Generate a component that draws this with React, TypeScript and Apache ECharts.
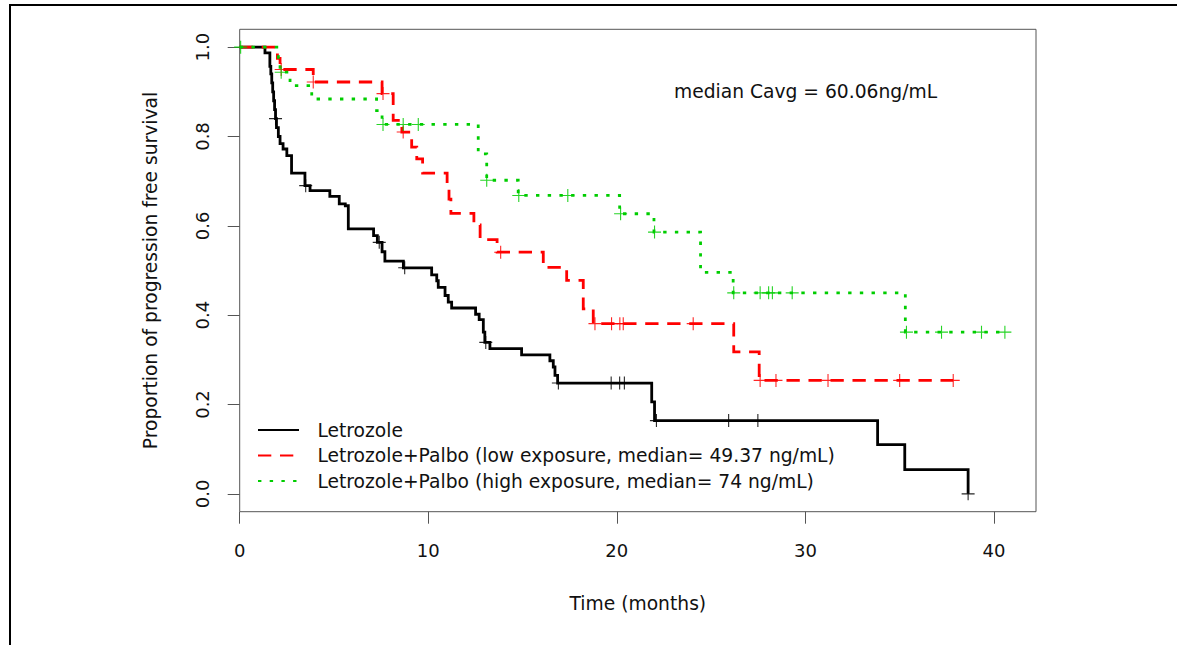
import React, { useEffect, useRef } from "react";
import * as echarts from "echarts";

// ---------- data ----------
const seriesNames = [
  "Letrozole",
  "Letrozole+Palbo (low exposure, median= 49.37 ng/mL)",
  "Letrozole+Palbo (high exposure, median= 74 ng/mL)",
];
const seriesColors = ["#000000", "#FF0000", "#00CD00"];

// Kaplan-Meier steps: [time (months), survival after that time]
const letrozoleSteps = [
  [0, 1.0], [1.34, 0.987], [1.6, 0.957], [1.65, 0.94], [1.7, 0.92], [1.75, 0.9],
  [1.8, 0.88], [1.85, 0.86], [1.9, 0.84], [1.95, 0.82], [2.05, 0.8], [2.14, 0.784],
  [2.3, 0.772], [2.5, 0.757], [2.75, 0.718], [3.46, 0.69], [3.73, 0.679],
  [4.78, 0.666], [5.28, 0.649], [5.6, 0.645], [5.76, 0.593], [7.1, 0.578],
  [7.3, 0.563], [7.55, 0.542], [7.7, 0.521], [8.68, 0.506], [10.18, 0.49],
  [10.45, 0.477], [10.53, 0.462], [10.89, 0.444], [11.06, 0.429], [11.24, 0.416],
  [12.51, 0.402], [12.7, 0.39], [12.92, 0.362], [13.0, 0.339], [13.27, 0.325],
  [14.95, 0.311], [16.45, 0.298], [16.63, 0.284], [16.72, 0.265], [16.86, 0.248],
  [21.85, 0.206], [22.0, 0.164], [33.83, 0.11], [35.27, 0.0544], [38.63, 0.0],
];
const letrozoleCensor = [
  [1.9, 0.84], [3.5, 0.69], [7.4, 0.563], [8.75, 0.506], [13.05, 0.339],
  [16.9, 0.248], [19.7, 0.248], [20.15, 0.248], [20.4, 0.248], [22.1, 0.164],
  [25.93, 0.164], [27.48, 0.164], [38.63, 0.0],
];

const lowSteps = [
  [0, 1.0], [2.0, 0.975], [2.14, 0.95], [3.9, 0.922], [7.55, 0.896], [8.14, 0.836],
  [8.6, 0.81], [9.12, 0.776], [9.39, 0.75], [9.7, 0.718], [11.0, 0.69], [11.1, 0.66],
  [11.2, 0.628], [12.42, 0.602], [12.75, 0.569], [13.65, 0.541], [16.1, 0.507],
  [17.34, 0.478], [18.22, 0.414], [18.75, 0.381], [26.2, 0.318], [27.55, 0.254],
  [37.84, 0.254],
];
const lowCensor = [
  [2.2, 0.95], [3.9, 0.922], [7.6, 0.896], [8.67, 0.81], [13.84, 0.541],
  [18.84, 0.381], [19.72, 0.381], [20.16, 0.381], [20.34, 0.381], [24.05, 0.381],
  [27.6, 0.254], [28.44, 0.254], [31.2, 0.254], [35.0, 0.254], [37.84, 0.254],
];

const highSteps = [
  [0, 1.0], [2.05, 0.972], [2.14, 0.944], [2.67, 0.914], [3.82, 0.884],
  [7.26, 0.858], [7.55, 0.827], [12.65, 0.761], [13.1, 0.702], [14.77, 0.668],
  [20.15, 0.627], [21.97, 0.586], [24.44, 0.496], [26.17, 0.45], [35.3, 0.362],
  [40.58, 0.362],
];
const highCensor = [
  [0.05, 1.0], [2.2, 0.944], [7.6, 0.827], [8.67, 0.827], [9.47, 0.827],
  [13.1, 0.702], [14.8, 0.668], [17.4, 0.668], [20.2, 0.627], [22.0, 0.586],
  [26.2, 0.45], [27.6, 0.45], [28.05, 0.45], [28.25, 0.45], [29.3, 0.45],
  [35.36, 0.362], [37.22, 0.362], [39.34, 0.362], [40.58, 0.362],
];

const xTicks = [0, 10, 20, 30, 40];
const yTicks = [0, 0.2, 0.4, 0.6, 0.8, 1.0];
const xTitle = "Time (months)";
const yTitle = "Proportion of progression free survival";
const annotation = "median Cavg = 60.06ng/mL";

// ---------- styling ----------
const FONT = "DejaVu Sans";
const dashes: (number[] | "solid")[] = ["solid", [13.3, 8.7], [3.4, 8.3]];
const plusPath = "path://M0,6.5H13M6.5,0V13";

export default function App() {
  const ref = useRef<HTMLDivElement>(null);

  useEffect(() => {
    if (!ref.current) return;
    const chart = echarts.init(ref.current, undefined, { renderer: "svg" });

    const stepSets = [letrozoleSteps, lowSteps, highSteps];
    const censorSets = [letrozoleCensor, lowCensor, highCensor];

    const lineSeries = stepSets.map((d, i) => ({
      name: seriesNames[i],
      type: "line",
      step: "end",
      data: d,
      symbol: "none",
      showSymbol: false,
      silent: true,
      z: 2 + i,
      lineStyle: {
        color: seriesColors[i],
        width: 2.8,
        type: dashes[i],
        cap: "butt",
        join: "miter",
      },
      itemStyle: { color: seriesColors[i] },
    }));

    const censorSeries = censorSets.map((d, i) => ({
      name: seriesNames[i] + " (censored)",
      type: "scatter",
      data: d,
      symbol: plusPath,
      symbolSize: 13,
      silent: true,
      z: 5 + i,
      itemStyle: {
        color: "none",
        borderColor: seriesColors[i],
        borderWidth: 1.1,
        opacity: 0.85,
      },
    }));

    chart.setOption({
      animation: false,
      backgroundColor: "#ffffff",
      grid: {
        left: 239.7,
        top: 29.3,
        width: 796.3,
        height: 482.4,
        show: true,
        borderColor: "#555555",
        borderWidth: 1,
        backgroundColor: "transparent",
      },
      xAxis: {
        type: "value",
        min: 0,
        max: 42.23,
        position: "bottom",
        name: xTitle,
        nameLocation: "middle",
        nameGap: 82,
        nameTextStyle: { fontFamily: FONT, fontSize: 18.7, color: "#111" },
        axisLine: { show: false, onZero: false },
        splitLine: { show: false },
        axisTick: {
          show: true,
          inside: false,
          length: 12,
          customValues: xTicks,
          lineStyle: { color: "#555555", width: 1 },
        },
        axisLabel: {
          customValues: xTicks,
          margin: 30,
          fontFamily: FONT,
          fontSize: 18,
          color: "#111",
          formatter: (v: number) => String(v),
        },
      },
      yAxis: {
        type: "value",
        min: -0.04,
        max: 1.04,
        position: "left",
        name: yTitle,
        nameLocation: "middle",
        nameGap: 80,
        nameTextStyle: { fontFamily: FONT, fontSize: 18.7, color: "#111" },
        axisLine: { show: false, onZero: false },
        splitLine: { show: false },
        axisTick: {
          show: true,
          inside: false,
          length: 12,
          customValues: yTicks,
          lineStyle: { color: "#555555", width: 1 },
        },
        axisLabel: {
          customValues: yTicks,
          rotate: 90,
          margin: 28,
          fontFamily: FONT,
          fontSize: 18,
          color: "#111",
          formatter: (v: number) => v.toFixed(1),
        },
      },
      legend: {
        data: seriesNames,
        orient: "vertical",
        left: 257,
        top: 419,
        padding: 0,
        itemWidth: 41,
        itemHeight: 22,
        itemGap: 3.5,
        selectedMode: false,
        itemStyle: { opacity: 0 },
        textStyle: {
          fontFamily: FONT,
          fontSize: 18.7,
          color: "#111",
          lineHeight: 22,
          padding: [0, 0, 0, 13.4],
        },
      },
      graphic: [
        {
          type: "line",
          shape: { x1: 9, y1: 5, x2: 1177, y2: 5 },
          style: { stroke: "#000", lineWidth: 2 },
          silent: true,
        },
        {
          type: "line",
          shape: { x1: 10, y1: 4, x2: 10, y2: 645 },
          style: { stroke: "#000", lineWidth: 2 },
          silent: true,
        },
        {
          type: "text",
          x: 674,
          y: 91.7,
          style: {
            text: annotation,
            fontFamily: FONT,
            fontSize: 18.7,
            fill: "#111",
            verticalAlign: "middle",
            align: "left",
          },
          silent: true,
        },
      ],
      series: [...lineSeries, ...censorSeries],
    });

    return () => chart.dispose();
  }, []);

  return (
    <div
      ref={ref}
      style={{
        position: "fixed",
        left: 0,
        top: 0,
        width: 1177,
        height: 645,
        background: "#fff",
      }}
    />
  );
}
